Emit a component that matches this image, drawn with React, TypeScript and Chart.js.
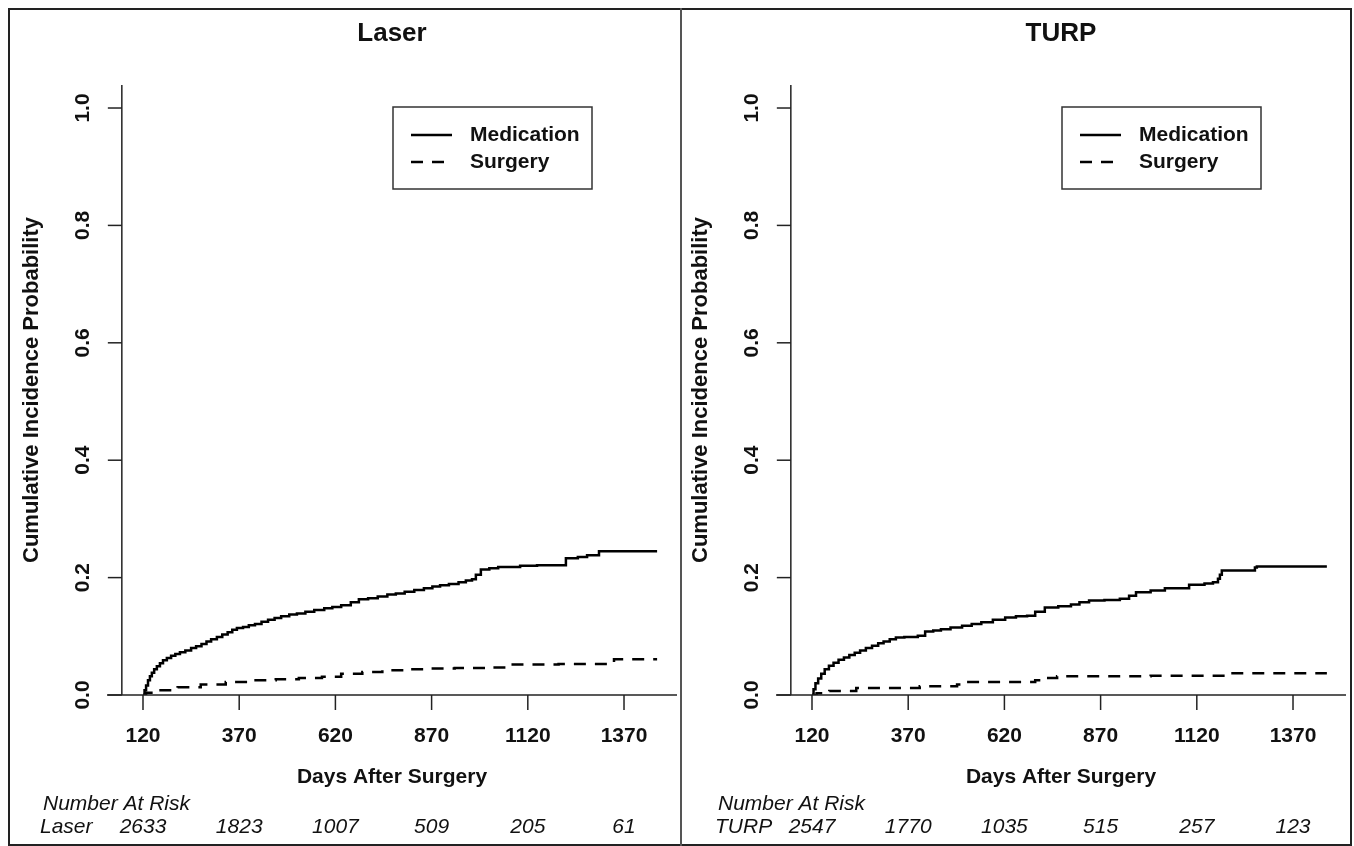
import React, { useEffect, useRef } from "react";
import { Chart, registerables } from "chart.js";

Chart.register(...registerables);

// ---------- data ----------
const X_TICKS = [120, 370, 620, 870, 1120, 1370];
const Y_TICKS = [0, 0.2, 0.4, 0.6, 0.8, 1.0];
const Y_TICK_LABELS = ["0.0", "0.2", "0.4", "0.6", "0.8", "1.0"];
const SERIES_NAMES = ["Medication", "Surgery"];
const X_TITLE = "Days After Surgery";
const Y_TITLE = "Cumulative Incidence Probability";
const AT_RISK_TITLE = "Number At Risk";

const LASER_MED_DAYS = [120, 124, 128, 133, 138, 143, 149, 156, 164, 172, 182, 193, 204, 216, 230, 245, 258, 272, 285, 297, 312, 326, 340, 352, 364, 380, 395, 411, 428, 445, 462, 479, 500, 520, 542, 565, 591, 612, 635, 660, 681, 705, 730, 755, 777, 800, 825, 850, 872, 892, 915, 940, 959, 975, 985, 998, 1020, 1043, 1100, 1144, 1219, 1250, 1274, 1305, 1456];
const LASER_MED_P = [0, 0.008, 0.016, 0.025, 0.032, 0.038, 0.044, 0.049, 0.054, 0.059, 0.063, 0.067, 0.07, 0.073, 0.076, 0.08, 0.083, 0.087, 0.091, 0.095, 0.099, 0.103, 0.107, 0.111, 0.114, 0.116, 0.119, 0.121, 0.125, 0.128, 0.131, 0.134, 0.137, 0.139, 0.142, 0.145, 0.148, 0.15, 0.153, 0.158, 0.163, 0.165, 0.168, 0.171, 0.173, 0.176, 0.179, 0.182, 0.185, 0.187, 0.189, 0.192, 0.195, 0.197, 0.205, 0.214, 0.216, 0.218, 0.22, 0.221, 0.233, 0.235, 0.238, 0.245, 0.245];
const LASER_SURG_DAYS = [120, 128, 150, 210, 270, 335, 400, 465, 525, 585, 635, 690, 742, 800, 850, 930, 1014, 1072, 1200, 1344, 1456];
const LASER_SURG_P = [0, 0.004, 0.008, 0.013, 0.018, 0.022, 0.025, 0.027, 0.029, 0.031, 0.036, 0.039, 0.042, 0.044, 0.045, 0.046, 0.047, 0.052, 0.053, 0.061, 0.061];

const TURP_MED_DAYS = [120, 124, 129, 136, 144, 153, 164, 176, 189, 203, 217, 231, 245, 260, 276, 292, 306, 322, 338, 360, 395, 414, 435, 455, 480, 510, 535, 560, 590, 622, 650, 679, 700, 725, 760, 793, 815, 840, 880, 920, 944, 962, 1000, 1037, 1100, 1140, 1162, 1175, 1180, 1185, 1271, 1276, 1458];
const TURP_MED_P = [0, 0.01, 0.02, 0.028, 0.036, 0.044, 0.05, 0.055, 0.06, 0.064, 0.068, 0.072, 0.076, 0.08, 0.084, 0.088, 0.091, 0.095, 0.098, 0.099, 0.101, 0.108, 0.11, 0.112, 0.115, 0.118, 0.121, 0.124, 0.128, 0.132, 0.134, 0.135, 0.142, 0.149, 0.151, 0.154, 0.158, 0.161, 0.162, 0.164, 0.169, 0.175, 0.178, 0.182, 0.188, 0.19, 0.192, 0.198, 0.205, 0.212, 0.217, 0.219, 0.219];
const TURP_SURG_DAYS = [120, 132, 165, 235, 400, 497, 520, 700, 720, 757, 1000, 1198, 1458];
const TURP_SURG_P = [0, 0.003, 0.007, 0.012, 0.015, 0.018, 0.022, 0.025, 0.029, 0.032, 0.033, 0.037, 0.037];

const LASER_AT_RISK = [2633, 1823, 1007, 509, 205, 61];
const TURP_AT_RISK = [2547, 1770, 1035, 515, 257, 123];

// ---------- layout / style ----------
const FONT = '"Liberation Sans", Arial, Helvetica, sans-serif';
const INK = "#111";
const CANVAS_W = 669;
const CANVAS_H = 834;
const X_MIN = 26.45;
const X_MAX = 1507.7;
const Y_MIN = 0;
const Y_MAX = 1.0392;
const Y_AXIS_DAY = 65;

type PanelProps = {
  title: string;
  group: string;
  medDays: number[];
  medP: number[];
  surgDays: number[];
  surgP: number[];
  atRisk: number[];
  labelX: number;
  left: number;
};

function makeDecor(title: string, group: string, atRisk: number[], labelX: number) {
  return {
    id: "decor",
    afterDraw(chart: any) {
      const ctx: CanvasRenderingContext2D = chart.ctx;
      const xs = chart.scales.x;
      const ys = chart.scales.y;
      const ca = chart.chartArea;
      const line = (x1: number, y1: number, x2: number, y2: number) => {
        ctx.beginPath();
        ctx.moveTo(x1, y1);
        ctx.lineTo(x2, y2);
        ctx.stroke();
      };
      ctx.save();
      ctx.strokeStyle = "#222";
      ctx.fillStyle = INK;
      ctx.lineWidth = 1.5;
      ctx.setLineDash([]);

      const y0 = ys.getPixelForValue(0);
      const yAxisX = xs.getPixelForValue(Y_AXIS_DAY);

      // y axis
      line(yAxisX, ca.top, yAxisX, y0);
      ctx.font = `bold 21px ${FONT}`;
      ctx.textAlign = "center";
      ctx.textBaseline = "middle";
      Y_TICKS.forEach((v, i) => {
        const y = ys.getPixelForValue(v);
        line(yAxisX - 14, y, yAxisX, y);
        ctx.save();
        ctx.translate(yAxisX - 39, y);
        ctx.rotate(-Math.PI / 2);
        ctx.fillText(Y_TICK_LABELS[i], 0, 0);
        ctx.restore();
      });

      // x axis
      line(ca.left, y0, ca.right, y0);
      X_TICKS.forEach((v) => {
        const x = xs.getPixelForValue(v);
        line(x, y0, x, y0 + 15);
        ctx.fillText(String(v), x, y0 + 41);
      });

      // axis titles
      const cx = (ca.left + ca.right) / 2;
      ctx.fillText(X_TITLE, cx, y0 + 82);
      ctx.save();
      ctx.font = `bold 22px ${FONT}`;
      ctx.translate(yAxisX - 90, (ca.top + y0) / 2);
      ctx.rotate(-Math.PI / 2);
      ctx.fillText(Y_TITLE, 0, 0);
      ctx.restore();

      // panel title
      ctx.font = `bold 26px ${FONT}`;
      ctx.fillText(title, cx, 24);

      // legend
      const lx = ca.left + 286;
      const ly = ca.top + 22;
      ctx.lineWidth = 1.5;
      ctx.strokeStyle = "#333";
      ctx.strokeRect(lx, ly, 199, 82);
      ctx.strokeStyle = "#000";
      ctx.lineWidth = 2.5;
      const rows = [ly + 28, ly + 55];
      line(lx + 18, rows[0], lx + 59, rows[0]);
      ctx.setLineDash([12, 9]);
      line(lx + 18, rows[1], lx + 59, rows[1]);
      ctx.setLineDash([]);
      ctx.font = `bold 21px ${FONT}`;
      ctx.textAlign = "left";
      SERIES_NAMES.forEach((n, i) => ctx.fillText(n, lx + 77, rows[i]));

      // number at risk
      ctx.font = `italic 21px ${FONT}`;
      ctx.fillText(AT_RISK_TITLE, labelX + 3, y0 + 109);
      ctx.fillText(group, labelX, y0 + 132);
      ctx.textAlign = "center";
      atRisk.forEach((n, i) => {
        ctx.fillText(String(n), xs.getPixelForValue(X_TICKS[i]), y0 + 132);
      });
      ctx.restore();
    },
  };
}

function Panel(props: PanelProps) {
  const ref = useRef<HTMLCanvasElement | null>(null);
  useEffect(() => {
    if (!ref.current) return;
    const chart = new Chart(ref.current, {
      type: "line",
      data: {
        datasets: [
          {
            label: SERIES_NAMES[0],
            data: props.medDays.map((d, i) => ({ x: d, y: props.medP[i] })),
            stepped: true,
            borderColor: "#000",
            borderWidth: 2.5,
            pointRadius: 0,
            fill: false,
          },
          {
            label: SERIES_NAMES[1],
            data: props.surgDays.map((d, i) => ({ x: d, y: props.surgP[i] })),
            stepped: true,
            borderColor: "#000",
            borderWidth: 2.5,
            borderDash: [12, 9],
            pointRadius: 0,
            fill: false,
          },
        ],
      },
      options: {
        animation: false,
        responsive: false,
        maintainAspectRatio: false,
        layout: { padding: { left: 97, right: 2, top: 75, bottom: 149 } },
        plugins: {
          legend: { display: false },
          title: { display: false },
          tooltip: { enabled: false },
        },
        scales: {
          x: { type: "linear", min: X_MIN, max: X_MAX, display: false },
          y: { type: "linear", min: Y_MIN, max: Y_MAX, display: false },
        },
      },
      plugins: [makeDecor(props.title, props.group, props.atRisk, props.labelX)],
    } as any);
    return () => chart.destroy();
  }, []);
  return (
    <canvas
      ref={ref}
      width={CANVAS_W}
      height={CANVAS_H}
      style={{ position: "absolute", left: props.left, top: 10, width: CANVAS_W, height: CANVAS_H }}
    />
  );
}

export default function App() {
  return (
    <div style={{ position: "fixed", left: 0, top: 0, width: 1354, height: 846, background: "#fff", overflow: "hidden" }}>
      <div
        style={{
          position: "absolute",
          left: 8,
          top: 8,
          width: 1344,
          height: 838,
          border: "2px solid #222",
          boxSizing: "border-box",
        }}
      />
      <div style={{ position: "absolute", left: 680, top: 8, width: 2, height: 838, background: "#555" }} />
      <Panel
        title="Laser"
        group="Laser"
        medDays={LASER_MED_DAYS}
        medP={LASER_MED_P}
        surgDays={LASER_SURG_DAYS}
        surgP={LASER_SURG_P}
        atRisk={LASER_AT_RISK}
        labelX={30}
        left={10}
      />
      <Panel
        title="TURP"
        group="TURP"
        medDays={TURP_MED_DAYS}
        medP={TURP_MED_P}
        surgDays={TURP_SURG_DAYS}
        surgP={TURP_SURG_P}
        atRisk={TURP_AT_RISK}
        labelX={36}
        left={679}
      />
    </div>
  );
}
